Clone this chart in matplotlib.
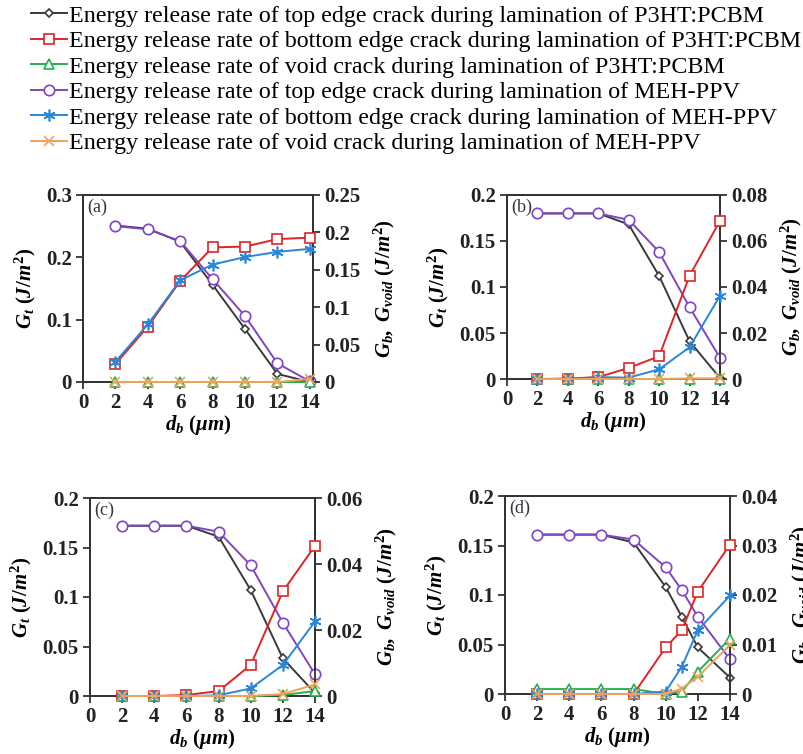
import matplotlib
matplotlib.use("Agg")
import matplotlib.pyplot as plt
from matplotlib.ticker import FixedLocator, FuncFormatter

plt.rcParams["font.family"] = ["Liberation Serif", "DejaVu Serif"]
plt.rcParams["mathtext.fontset"] = "custom"
plt.rcParams["mathtext.rm"] = "Liberation Serif:bold"
plt.rcParams["mathtext.it"] = "Liberation Serif:italic:bold"
plt.rcParams["mathtext.bf"] = "Liberation Serif:bold"

# d_b values (um)
x = [2, 4, 6, 8, 10, 12, 14]
x_d = [2, 4, 6, 8, 10, 11, 12, 14]

# (a)
a_top_p3ht = [0.251, 0.246, 0.225, 0.156, 0.085, 0.013, 0.0]
a_bot_p3ht = [0.024, 0.074, 0.135, 0.180, 0.181, 0.191, 0.193]
a_void_p3ht = [0, 0, 0, 0, 0, 0, 0]
a_top_meh = [0.250, 0.245, 0.226, 0.165, 0.106, 0.030, 0.001]
a_bot_meh = [0.027, 0.077, 0.136, 0.157, 0.167, 0.174, 0.178]
a_void_meh = [0, 0, 0, 0, 0, 0, 0.004]

# (b)
b_top_p3ht = [0.180, 0.180, 0.180, 0.168, 0.112, 0.041, 0.001]
b_bot_p3ht = [0, 0.0002, 0.0008, 0.0048, 0.0099, 0.0449, 0.0688]
b_void_p3ht = [0, 0, 0, 0, 0, 0, 0]
b_top_meh = [0.180, 0.180, 0.180, 0.173, 0.138, 0.078, 0.023]
b_bot_meh = [0, 0, 0.0008, 0.0006, 0.0042, 0.0138, 0.0362]
b_void_meh = [0, 0, 0, 0, 0, 0.0003, 0.0003]

# (c)
c_top_p3ht = [0.172, 0.172, 0.172, 0.161, 0.107, 0.038, 0.003]
c_bot_p3ht = [0, 0, 0.0003, 0.0015, 0.0094, 0.0317, 0.0455]
c_void_p3ht = [0, 0, 0, 0, 0, 0.0003, 0.0015]
c_top_meh = [0.172, 0.172, 0.172, 0.166, 0.132, 0.074, 0.022]
c_bot_meh = [0, 0, 0, 0.0002, 0.0023, 0.0094, 0.0226]
c_void_meh = [0, 0, 0, 0, 0, 0.0006, 0.0035]

# (d)
d_top_p3ht = [0.161, 0.161, 0.161, 0.153, 0.108, 0.078, 0.047, 0.0165]
d_bot_p3ht = [0, 0, 0, 0, 0.0094, 0.0129, 0.0207, 0.0302]
d_void_p3ht = [0.001, 0.001, 0.001, 0.001, 0, 0.0005, 0.0045, 0.0112]
d_top_meh = [0.161, 0.161, 0.161, 0.156, 0.128, 0.105, 0.078, 0.035]
d_bot_meh = [0, 0, 0, 0, 0.0005, 0.0055, 0.0129, 0.0199]
d_void_meh = [0, 0, 0, 0, 0, 0.0011, 0.0035, 0.0099]

labels = [
    "Energy release rate of top edge crack during lamination of P3HT:PCBM",
    "Energy release rate of bottom edge crack during lamination of P3HT:PCBM",
    "Energy release rate of void crack during lamination of P3HT:PCBM",
    "Energy release rate of top edge crack during lamination of MEH-PPV",
    "Energy release rate of bottom edge crack during lamination of MEH-PPV",
    "Energy release rate of void crack during lamination of MEH-PPV",
]

# (color, marker, size, side) per series, same order as labels
styles = [
    ("#3a3a3a", "D", 4.5, "left"),
    ("#e02424", "s", 7.5, "right"),
    ("#22b050", "^", 6.5, "right"),
    ("#8044c4", "o", 7.5, "left"),
    ("#2a86d8", (6, 2, 0), 8.5, "right"),
    ("#f2a25a", "x", 7, "right"),
]

panels = [
    ("(a)", x, [a_top_p3ht, a_bot_p3ht, a_void_p3ht, a_top_meh, a_bot_meh, a_void_meh],
     [0, 0.1, 0.2, 0.3], [0, 0.05, 0.1, 0.15, 0.2, 0.25], 14.2,
     [83, 195, 313, 382]),
    ("(b)", x, [b_top_p3ht, b_bot_p3ht, b_void_p3ht, b_top_meh, b_bot_meh, b_void_meh],
     [0, 0.05, 0.1, 0.15, 0.2], [0, 0.02, 0.04, 0.06, 0.08], 14,
     [507, 195, 720, 379]),
    ("(c)", x, [c_top_p3ht, c_bot_p3ht, c_void_p3ht, c_top_meh, c_bot_meh, c_void_meh],
     [0, 0.05, 0.1, 0.15, 0.2], [0, 0.02, 0.04, 0.06], 14,
     [90, 498, 315, 696]),
    ("(d)", x_d, [d_top_p3ht, d_bot_p3ht, d_void_p3ht, d_top_meh, d_bot_meh, d_void_meh],
     [0, 0.05, 0.1, 0.15, 0.2], [0, 0.01, 0.02, 0.03, 0.04], 14,
     [505, 496, 730, 694]),
]

W, H = 804, 754
fig = plt.figure(figsize=(W / 100, H / 100), dpi=100)

fmt = FuncFormatter(lambda v, p: "%g" % round(v, 4))
handles = []

for tag, xs, series, lticks, rticks, xmax, (l, t, r, b) in panels:
    ax = fig.add_axes([l / W, 1 - b / H, (r - l) / W, (b - t) / H])
    ax2 = ax.twinx()
    for (color, mk, ms, side), ys in zip(styles, series):
        target = ax if side == "left" else ax2
        hollow = mk in ("D", "s", "^", "o")
        (ln,) = target.plot(xs, ys, color=color, lw=1.4, marker=mk, ms=ms,
                            mfc="white" if hollow else color,
                            mec=color, mew=1.2, clip_on=False, zorder=3)
        if tag == "(a)":
            handles.append(ln)
    ax.set_xlim(0, xmax)
    ax.set_ylim(lticks[0], lticks[-1])
    ax2.set_ylim(rticks[0], rticks[-1])
    ax.xaxis.set_major_locator(FixedLocator(range(0, 15, 2)))
    ax.yaxis.set_major_locator(FixedLocator(lticks))
    ax2.yaxis.set_major_locator(FixedLocator(rticks))
    ax.yaxis.set_major_formatter(fmt)
    ax2.yaxis.set_major_formatter(fmt)
    for a in (ax, ax2):
        a.tick_params(direction="out", length=5, width=1.2, colors="#222222",
                      labelsize=15, pad=3)
        for s in a.spines.values():
            s.set_linewidth(1.3)
            s.set_color("#333333")
        for lab in a.get_xticklabels() + a.get_yticklabels():
            lab.set_fontweight("bold")
    ax.set_ylabel(r"$G_t\ (J/m^2)$", fontsize=15, labelpad=6)
    ax2.set_ylabel(r"$G_b,\ G_{void}\ (J/m^2)$", fontsize=15, labelpad=8)
    ax.set_xlabel(r"$d_b\ (\mu m)$", fontsize=15, labelpad=0)
    ax.text(0.02, 0.98, tag, transform=ax.transAxes, ha="left", va="top",
            fontsize=13, color="#333344")

fig.legend(handles, labels, loc="upper left", bbox_to_anchor=(31 / W, 1 - 5 / H),
           frameon=False, fontsize=17.3, handlelength=1.5, handletextpad=0.1,
           labelspacing=0.15, borderpad=0, borderaxespad=0)

fig.savefig("out.png", dpi=100)
